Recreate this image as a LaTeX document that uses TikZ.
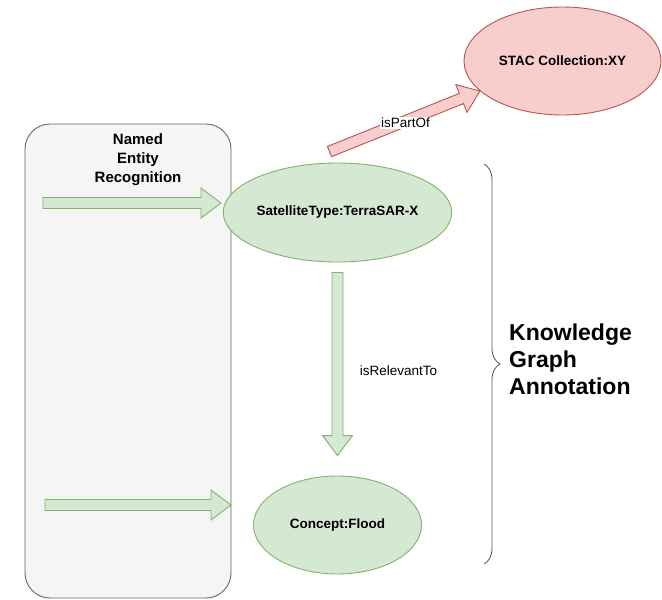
\documentclass[tikz,border=0pt]{standalone}
\usepackage{fontspec}
\setmainfont{Liberation Sans}
\usetikzlibrary{shapes.geometric,calc,decorations.pathreplacing}

\definecolor{greenfill}{HTML}{D5E8D4}
\definecolor{greenline}{HTML}{82B366}
\definecolor{redfill}{HTML}{F8CECC}
\definecolor{redline}{HTML}{B85450}
\definecolor{boxfill}{HTML}{F5F5F5}
\definecolor{boxline}{HTML}{666666}
\definecolor{braceline}{HTML}{555555}

\tikzset{
  entity/.style={ellipse, draw=greenline, fill=greenfill, inner sep=0pt,
    line width=0.9pt, font=\fontsize{13.5}{15}\selectfont\bfseries},
  collection/.style={entity, draw=redline, fill=redfill},
  greenarrow/.style={draw=greenline, fill=greenfill, line width=0.9pt},
  redarrow/.style={draw=redline, fill=redfill, line width=0.9pt},
  relation/.style={font=\fontsize{13.5}{15}\selectfont, inner sep=1pt},
  stagebox/.style={draw=boxline, fill=boxfill, line width=0.9pt,
    rounded corners=25pt, inner sep=0pt},
}

% Block arrow (shaft 11pt, head 30pt wide and 20pt long) from #2 to #3
\newcommand\blockarrow[3]{%
  \path let \p1=(#2), \p2=(#3) in \pgfextra{%
    \pgfmathsetmacro\baA{atan2(\y2-\y1,\x2-\x1)}%
    \pgfmathsetmacro\baL{veclen(\x2-\x1,\y2-\y1)}%
    \xdef\baAngle{\baA}\xdef\baLen{\baL}};
  \draw[#1, shift={(#2)}, rotate=\baAngle]
    (0pt,-5.5pt) -- (\baLen pt-20pt,-5.5pt) -- (\baLen pt-20pt,-15pt)
    -- (\baLen pt,0pt) -- (\baLen pt-20pt,15pt) -- (\baLen pt-20pt,5.5pt)
    -- (0pt,5.5pt) -- cycle;
}

\begin{document}
\begin{tikzpicture}[x=1pt, y=-1pt]
  \useasboundingbox (0,0) rectangle (662,600);

  % Named entity recognition stage
  \node[stagebox, minimum width=206pt, minimum height=474pt] (ner) at (128,361) {};
  \node[align=center, inner sep=0pt, font=\fontsize{15}{19}\selectfont\bfseries]
    (nerlabel) at (138,160) {Named\\Entity\\Recognition};

  % Entities
  \node[entity, minimum width=180pt, minimum height=99pt] (sat) at (337.5,212.5)
    {SatelliteType:TerraSAR-X};
  \node[entity, minimum width=168pt, minimum height=98pt] (concept) at (337.5,525)
    {Concept:Flood};
  \node[collection, minimum width=197pt, minimum height=108pt] (stac) at (562.5,61)
    {STAC Collection:XY};

  % Recognition arrows
  \coordinate (in1) at (43,203);
  \coordinate (out1) at (221,203);
  \coordinate (in2) at (45,505);
  \coordinate (out2) at (231,505);
  \blockarrow{greenarrow}{in1}{out1}
  \blockarrow{greenarrow}{in2}{out2}

  % Relations
  \coordinate (partTail) at ($(sat.north)+(-8,-11)$);
  \coordinate (partTip) at (stac.200);
  \blockarrow{redarrow}{partTail}{partTip}
  \node[relation, fill=white] (partlabel) at (405.5,123) {isPartOf};

  \coordinate (relTail) at ($(sat.south)+(0,10)$);
  \coordinate (relTip) at ($(concept.north)+(0,-20)$);
  \blockarrow{greenarrow}{relTail}{relTip}
  \node[relation] (rellabel) at (398.5,371) {isRelevantTo};

  % Knowledge graph annotation brace
  \draw[braceline, line width=0.8pt, decorate, decoration={brace, amplitude=16pt}]
    (484,164) -- (484,564);
  \node[anchor=west, align=left, inner sep=0pt,
    font=\fontsize{23}{27}\selectfont\bfseries] (kga) at (509,359)
    {Knowledge\\Graph\\Annotation};
\end{tikzpicture}
\end{document}
